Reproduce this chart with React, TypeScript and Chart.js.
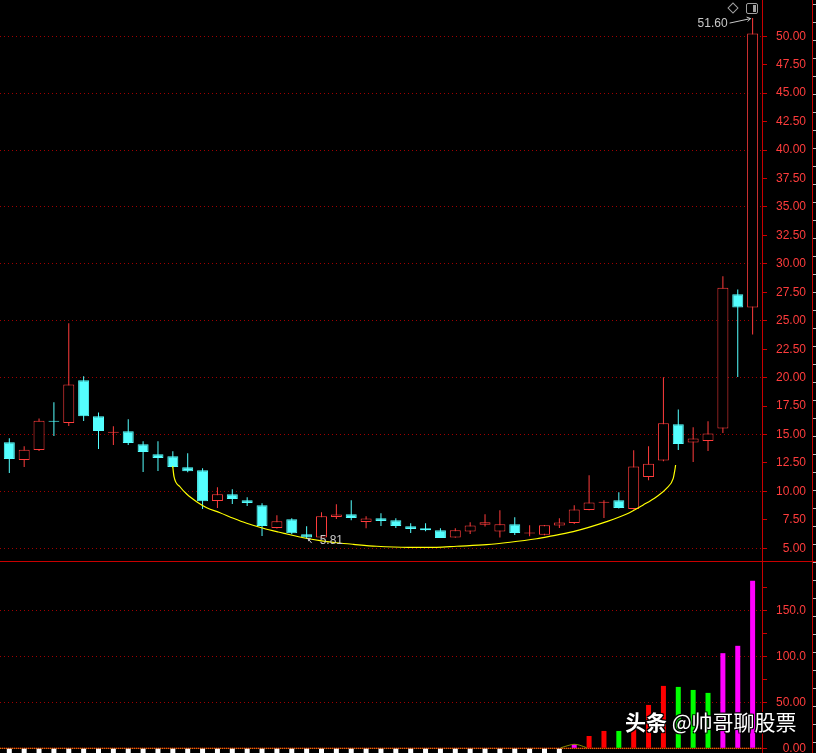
import React, { useEffect, useRef } from "react";
import { Chart, registerables } from "chart.js";

Chart.register(...registerables);

// ---------- data ----------
const opens = [14.32, 12.76, 13.64, 16.16, 16.01, 19.77, 16.60, 15.16, 15.28, 14.14, 13.26, 13.09, 12.12, 11.86, 9.16, 9.75, 9.22, 8.78, 6.78, 7.55, 6.23, 5.94, 7.75, 7.99, 7.31, 7.64, 7.46, 6.93, 6.76, 6.58, 5.94, 6.47, 7.08, 6.47, 7.11, 6.31, 6.19, 7.00, 7.22, 8.37, 9.01, 9.22, 8.45, 11.27, 12.71, 15.90, 14.29, 14.43, 15.53, 27.32, 26.16];
const highs = [14.67, 13.96, 16.40, 17.83, 24.78, 20.12, 16.93, 15.72, 16.34, 14.40, 14.40, 13.53, 13.35, 12.03, 10.36, 10.19, 9.48, 8.96, 7.90, 7.64, 6.93, 8.16, 8.87, 9.22, 7.81, 8.08, 7.64, 7.20, 7.20, 6.76, 6.76, 7.29, 7.99, 8.34, 7.72, 7.02, 7.05, 7.64, 8.78, 11.42, 9.22, 9.92, 13.61, 13.96, 20.03, 17.19, 15.63, 16.16, 28.91, 27.74, 51.60];
const lows = [11.62, 12.15, 13.55, 14.87, 15.75, 16.19, 13.73, 14.08, 14.08, 11.71, 11.79, 12.10, 11.68, 8.45, 8.54, 8.89, 8.72, 6.08, 6.75, 6.23, 5.81, 5.90, 7.58, 7.46, 6.76, 6.96, 6.78, 6.34, 6.49, 5.90, 5.92, 6.26, 6.91, 5.94, 6.17, 6.05, 6.15, 6.78, 7.14, 8.35, 7.66, 8.50, 8.40, 10.98, 12.65, 13.64, 12.58, 13.55, 15.13, 20.06, 23.78];
const closes = [12.85, 13.67, 16.22, 16.12, 19.39, 16.60, 15.31, 15.18, 14.25, 13.46, 12.94, 12.15, 11.77, 9.13, 9.75, 9.33, 8.98, 6.96, 7.37, 6.32, 5.94, 7.81, 7.96, 7.66, 7.61, 7.40, 6.96, 6.70, 6.58, 5.91, 6.58, 7.00, 7.29, 7.11, 6.34, 6.33, 7.02, 7.26, 8.40, 9.02, 9.03, 8.54, 12.18, 12.44, 15.99, 14.17, 14.64, 15.08, 27.91, 26.16, 50.24];

const volumes = [0, 0, 0, 0, 0, 0, 0, 0, 0, 0, 0, 0, 0, 0, 0, 0, 0, 0, 0, 0, 0, 0, 0, 0, 0, 0, 0, 0, 0, 0, 0, 0, 0, 0, 0, 0, 0, 0, 4.4, 13.4, 18.9, 18.9, 25.0, 47.2, 67.9, 66.8, 63.5, 60.3, 103.5, 111.5, 182.3];
const volumeKinds = ["n", "n", "n", "n", "n", "n", "n", "n", "n", "n", "n", "n", "n", "n", "n", "n", "n", "n", "n", "n", "n", "n", "n", "n", "n", "n", "n", "n", "n", "n", "n", "n", "n", "n", "n", "n", "n", "n", "m", "r", "r", "g", "r", "r", "r", "g", "g", "g", "m", "m", "m"];
const quietMarks = [1, 1, 1, 1, 1, 1, 1, 1, 1, 1, 1, 1, 1, 1, 1, 1, 1, 1, 1, 1, 1, 1, 1, 1, 1, 1, 1, 1, 1, 1, 1, 1, 1, 1, 1, 1, 1, 1, 0, 0, 0, 0, 0, 0, 0, 0, 0, 0, 0, 0, 0];

const volMaX = [37.1, 37.65, 38.0, 38.38, 38.83];
const volMaY = [0.6, 3.3, 4.4, 3.3, 0.65];

// hand-drawn "cup" curve
const cupX = [10.99, 11.08, 11.48, 11.93, 12.6, 13.28, 14.17, 15.07, 15.97, 17.08, 18.09, 18.66, 19.77, 20.9, 22.02, 23.14, 24.71, 26.84, 28.75, 30.09, 32.11, 33.68, 35.47, 36.25, 37.93, 40.18, 41.53, 42.64, 43.54, 44.21, 44.66, 44.77, 44.82];
const cupY = [12.23, 11.29, 10.41, 9.77, 9.10, 8.57, 8.13, 7.64, 7.20, 6.76, 6.43, 6.26, 5.93, 5.67, 5.49, 5.35, 5.18, 5.09, 5.09, 5.18, 5.32, 5.53, 5.84, 6.02, 6.46, 7.34, 8.01, 8.81, 9.54, 10.27, 11.15, 11.88, 12.32];

// ---------- styles ----------
const UP = "#ff3c3c";
const DOWN = "#54ffff";
const AXIS = "#c80000";
const GRID = "#a00000";
const LABEL = "#ff3c3c";
const NOTE = "#c8c8c8";
const VOLC: Record<string, string> = { r: "#ff0000", g: "#00ff00", m: "#ff00ff", n: "transparent" };
const X_MIN = -0.626;
const X_MAX = 50.631;
const AXIS_W = 44;
const RIGHT_PAD = 10;
const FONT = { family: "'Liberation Sans', Arial, sans-serif", size: 12 };

const idx = opens.map((_, i) => i);
const isUp = (i: number) => closes[i] >= opens[i];

const notePlugin = {
  id: "notes",
  afterDatasetsDraw(chart: any) {
    const { ctx, scales } = chart;
    const x = scales.x, y = scales.y;
    ctx.save();
    ctx.font = "12px 'Liberation Sans', Arial, sans-serif";
    ctx.fillStyle = NOTE;
    ctx.strokeStyle = NOTE;
    ctx.lineWidth = 1;
    // highest
    const hi = Math.max(...highs);
    const hiI = highs.indexOf(hi);
    const hx = x.getPixelForValue(hiI);
    const hy = y.getPixelForValue(hi);
    ctx.textAlign = "right";
    ctx.textBaseline = "middle";
    ctx.fillText(hi.toFixed(2), hx - 25, hy + 5.5);
    ctx.beginPath();
    ctx.moveTo(hx - 23, hy + 5);
    ctx.lineTo(hx - 2, hy + 0.5);
    ctx.stroke();
    ctx.beginPath();
    ctx.moveTo(hx - 6, hy - 1);
    ctx.lineTo(hx - 2, hy + 0.5);
    ctx.lineTo(hx - 5, hy + 3.5);
    ctx.stroke();
    // lowest
    const lo = Math.min(...lows);
    const loI = lows.indexOf(lo);
    const lx = x.getPixelForValue(loI);
    const ly = y.getPixelForValue(lo);
    ctx.textAlign = "left";
    ctx.fillText(lo.toFixed(2), lx + 13, ly + 1.5);
    ctx.beginPath();
    ctx.moveTo(lx + 5, ly + 4);
    ctx.lineTo(lx + 1, ly - 1);
    ctx.stroke();
    ctx.beginPath();
    ctx.moveTo(lx + 1, ly - 1);
    ctx.lineTo(lx + 4.5, ly - 0.5);
    ctx.lineTo(lx + 1.5, ly + 2.5);
    ctx.closePath();
    ctx.fill();
    ctx.restore();
  },
};

const isMult = (v: number, m: number) => Math.abs(v / m - Math.round(v / m)) < 1e-6;

export default function App() {
  const priceRef = useRef<HTMLCanvasElement>(null);
  const volRef = useRef<HTMLCanvasElement>(null);

  useEffect(() => {
    const priceChart = new Chart(priceRef.current as HTMLCanvasElement, {
      type: "bar",
      data: {
        datasets: [
          {
            type: "line",
            data: cupX.map((v, i) => ({ x: v, y: cupY[i] })),
            borderColor: "#ffff00",
            borderWidth: 1.2,
            pointRadius: 0,
            cubicInterpolationMode: "monotone",
            fill: false,
            order: 0,
          } as any,
          {
            type: "bar",
            data: idx.map((i) => ({ x: i, y: [opens[i], closes[i]] })),
            backgroundColor: idx.map((i) => (isUp(i) ? "#000000" : DOWN)),
            borderColor: idx.map((i) => (isUp(i) ? UP : DOWN)),
            borderWidth: 1,
            borderSkipped: false,
            barThickness: 11,
            minBarLength: 1,
            grouped: false,
            inflateAmount: 0,
            order: 1,
          } as any,
          {
            type: "bar",
            data: idx.map((i) => ({ x: i, y: [lows[i], highs[i]] })),
            backgroundColor: idx.map((i) => (isUp(i) ? UP : DOWN)),
            borderWidth: 0,
            barThickness: 1,
            grouped: false,
            inflateAmount: 0,
            order: 2,
          } as any,
        ],
      },
      options: {
        animation: false,
        responsive: false,
        maintainAspectRatio: false,
        devicePixelRatio: 1,
        layout: { padding: { left: 0, top: 0, bottom: 0, right: RIGHT_PAD } },
        plugins: { legend: { display: false }, tooltip: { enabled: false } },
        scales: {
          x: { type: "linear", min: X_MIN, max: X_MAX, offset: false, display: false },
          y: {
            position: "right",
            min: 3.884,
            max: 53.19,
            afterFit: (s: any) => {
              s.width = AXIS_W;
              s.paddingTop = 0;
              s.paddingBottom = 0;
            },
            afterBuildTicks: (s: any) => {
              s.ticks = s.ticks.filter((t: any) => t.value >= 4.99 && t.value <= 50.01);
            },
            ticks: {
              stepSize: 2.5,
              includeBounds: false,
              autoSkip: false,
              color: LABEL,
              font: FONT,
              padding: 9,
              crossAlign: "far",
              callback: (v: any) => Number(v).toFixed(2),
            },
            grid: {
              color: (c: any) => (c.tick && isMult(c.tick.value, 5) ? GRID : "transparent"),
              tickColor: AXIS,
              tickLength: 5,
              lineWidth: 1,
            },
            border: { color: AXIS, width: 1, dash: [1, 3] },
          } as any,
        },
      },
      plugins: [notePlugin],
    });

    const volChart = new Chart(volRef.current as HTMLCanvasElement, {
      type: "bar",
      data: {
        datasets: [
          {
            type: "line",
            data: volMaX.map((v, i) => ({ x: v, y: volMaY[i] })),
            borderColor: "#8a8a00",
            borderWidth: 1,
            pointRadius: 0,
            tension: 0.3,
            order: 0,
          } as any,
          {
            type: "bar",
            data: idx.map((i) => ({ x: i, y: volumes[i] })),
            backgroundColor: idx.map((i) => VOLC[volumeKinds[i]]),
            borderWidth: 0,
            barThickness: 5,
            grouped: false,
            inflateAmount: 0,
            order: 1,
          } as any,
          {
            type: "bar",
            data: idx.filter((i) => quietMarks[i]).map((i) => ({ x: i, y: [-5.2, -0.45] })),
            backgroundColor: "#ffffff",
            borderWidth: 0,
            barThickness: 5,
            grouped: false,
            inflateAmount: 0,
            order: 2,
          } as any,
          {
            type: "line",
            data: [{ x: X_MIN, y: 0 }, { x: X_MAX, y: 0 }],
            borderColor: "#d7a000",
            borderWidth: 1,
            borderDash: [1, 1],
            pointRadius: 0,
            order: 3,
          } as any,
          {
            type: "line",
            data: [{ x: X_MIN, y: 0 }, { x: X_MAX, y: 0 }],
            borderColor: "#c00000",
            borderWidth: 1,
            pointRadius: 0,
            order: 4,
          } as any,
        ],
      },
      options: {
        animation: false,
        responsive: false,
        maintainAspectRatio: false,
        devicePixelRatio: 1,
        layout: { padding: { left: 0, top: 0, bottom: 0, right: RIGHT_PAD } },
        plugins: { legend: { display: false }, tooltip: { enabled: false } },
        scales: {
          x: { type: "linear", min: X_MIN, max: X_MAX, offset: false, display: false },
          y: {
            position: "right",
            min: -5.1,
            max: 202.7,
            afterFit: (s: any) => {
              s.width = AXIS_W;
              s.paddingTop = 0;
              s.paddingBottom = 0;
            },
            afterBuildTicks: (s: any) => {
              s.ticks = s.ticks.filter((t: any) => t.value >= -0.01 && t.value <= 175.01);
            },
            ticks: {
              stepSize: 25,
              includeBounds: false,
              autoSkip: false,
              color: LABEL,
              font: FONT,
              padding: 9,
              crossAlign: "far",
              callback: (v: any) => {
                const n = Number(v);
                if (!isMult(n, 50)) return "";
                return n >= 100 ? n.toFixed(1) : n.toFixed(2);
              },
            },
            grid: {
              color: (c: any) => (c.tick && c.tick.value > 1 && isMult(c.tick.value, 50) ? GRID : "transparent"),
              tickColor: AXIS,
              tickLength: 5,
              lineWidth: 1,
            },
            border: { color: AXIS, width: 1, dash: [1, 3] },
          } as any,
        },
      },
    });

    return () => {
      priceChart.destroy();
      volChart.destroy();
    };
  }, []);

  return (
    <div
      style={{
        position: "fixed",
        left: 0,
        top: 0,
        width: 816,
        height: 753,
        background: "#000",
        overflow: "hidden",
      }}
    >
      <canvas ref={priceRef} width={816} height={561} style={{ position: "absolute", left: 0, top: 0 }} />
      <div style={{ position: "absolute", left: 0, top: 561, width: 816, height: 1, background: AXIS }} />
      <canvas ref={volRef} width={816} height={191} style={{ position: "absolute", left: 0, top: 562 }} />
      <div
        style={{
          position: "absolute",
          left: 812,
          top: 0,
          width: 1,
          height: 753,
          background: AXIS,
        }}
      />
      <div
        style={{
          position: "absolute",
          left: 813,
          top: 4,
          width: 3,
          height: 749,
          backgroundImage: "repeating-linear-gradient(to bottom, #bbbbbb 0px, #bbbbbb 1px, transparent 1px, transparent 18px)",
        }}
      />
      {/* toolbar icons */}
      <div
        style={{
          position: "absolute",
          left: 729,
          top: 4,
          width: 6,
          height: 6,
          border: "1px solid #a0a0a0",
          transform: "rotate(45deg)",
        }}
      />
      <div
        style={{
          position: "absolute",
          left: 746,
          top: 3,
          width: 10,
          height: 9,
          border: "1px solid #a0a0a0",
          borderRadius: 2,
        }}
      >
        <div style={{ position: "absolute", right: 1, top: 1, width: 3, height: 7, background: "#a0a0a0" }} />
      </div>
      {/* watermark */}
      <div
        style={{
          position: "absolute",
          left: 625,
          top: 709,
          fontFamily: "'Noto Sans CJK SC', sans-serif",
          fontSize: 21,
          lineHeight: "24px",
          color: "#ffffff",
          whiteSpace: "nowrap",
          textShadow: "1px 1px 0 #000, -1px -1px 0 #000, 1px -1px 0 #000, -1px 1px 0 #000, 0 0 2px #000",
        }}
      >
        <span style={{ fontWeight: 700 }}>头条</span> @帅哥聊股票
      </div>
    </div>
  );
}
